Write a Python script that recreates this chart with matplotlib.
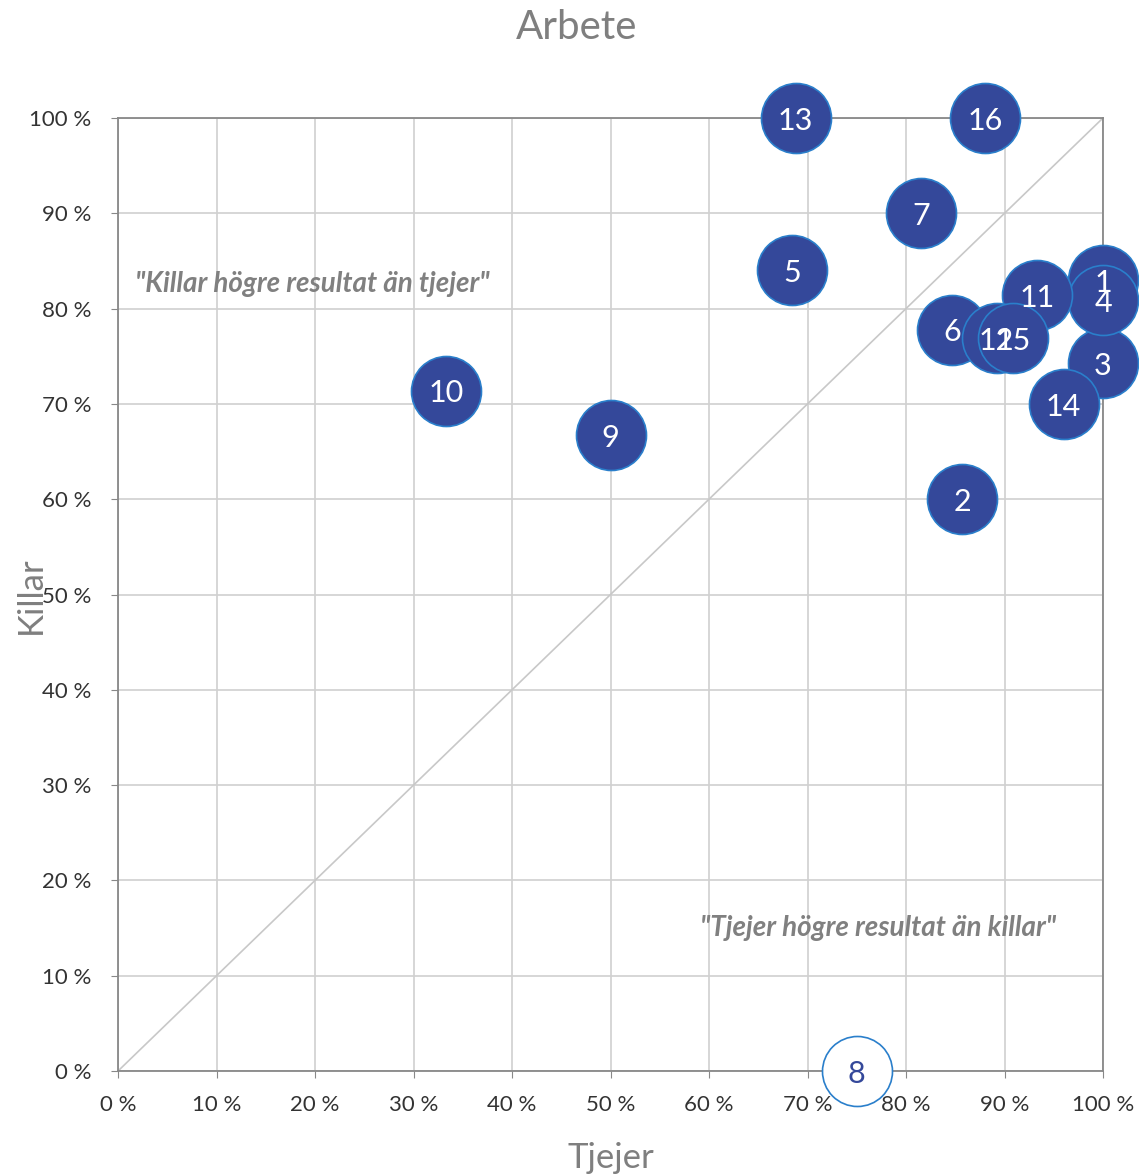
import matplotlib
matplotlib.use('Agg')
import matplotlib.pyplot as plt
import numpy as np

plt.rcParams['font.family'] = ['Lato', 'DejaVu Sans']

# data: tjejer (x) and killar (y) in percent, one bubble per question
labels = ['1', '2', '3', '4', '5', '6', '7', '8', '9', '10', '11', '12', '13', '14', '15', '16']
tjejer = [100, 85.7, 100, 100, 68.4, 84.7, 81.5, 75.0, 50.0, 33.3, 93.3, 89.2, 68.8, 96.0, 90.9, 88.0]
killar = [83.0, 60.0, 74.3, 80.9, 84.0, 77.8, 90.0, 0.0, 66.7, 71.4, 81.4, 76.9, 100, 70.0, 76.9, 100]
hollow = ['8']

ticks = np.arange(0, 101, 10)
tick_labels = ['%d %%' % t for t in ticks]

fig = plt.figure(figsize=(11.39, 11.74), dpi=100)
ax = fig.add_axes([0.1036, 0.0877, 0.8648, 0.8118])

ax.set_xlim(0, 100)
ax.set_ylim(0, 100)
ax.set_xticks(ticks)
ax.set_yticks(ticks)
ax.set_xticklabels(tick_labels)
ax.set_yticklabels(tick_labels)
ax.tick_params(labelsize=16, colors='#333333', length=5, color='#888888')
ax.tick_params(axis='x', pad=12)
ax.tick_params(axis='y', pad=14)
ax.grid(True, color='#d0d0d0', linewidth=1.2)
ax.set_axisbelow(True)
for s in ax.spines.values():
    s.set_color('#888888')
    s.set_linewidth(1.3)

# diagonal
ax.plot([0, 100], [0, 100], color='#c8c8c8', linewidth=1.2, zorder=1)

for i in range(len(labels)):
    if labels[i] in hollow:
        ax.scatter(tjejer[i], killar[i], s=2540, facecolor='white', edgecolor='#2a7fcb',
                   linewidth=1.2, zorder=3, clip_on=False)
    else:
        ax.scatter(tjejer[i], killar[i], s=2540, facecolor='#34489a', edgecolor='#2a7fcb',
                   linewidth=1.2, zorder=3, clip_on=False)

for i in range(len(labels)):
    col = '#34489a' if labels[i] in hollow else 'white'
    ax.text(tjejer[i], killar[i] - 0.3, labels[i], ha='center', va='center', fontsize=22,
            color=col, zorder=5, clip_on=False)

ax.text(1.7, 82.6, '"Killar högre resultat än tjejer"', fontsize=20, style='italic',
        fontweight='bold', color='#808080', va='center', ha='left', zorder=2)
ax.text(59.1, 15.0, '"Tjejer högre resultat än killar"', fontsize=20, style='italic',
        fontweight='bold', color='#808080', va='center', ha='left', zorder=2)

fig.text(0.5066, 0.977, 'Arbete', fontsize=29, color='#7f7f7f', ha='center', va='center')
ax.set_xlabel('Tjejer', fontsize=25, color='#7f7f7f', labelpad=20)
fig.text(0.027, 1 - 595 / 1174, 'Killar', fontsize=25, color='#7f7f7f',
         rotation=90, ha='center', va='center')

fig.savefig('out.png', dpi=100)
